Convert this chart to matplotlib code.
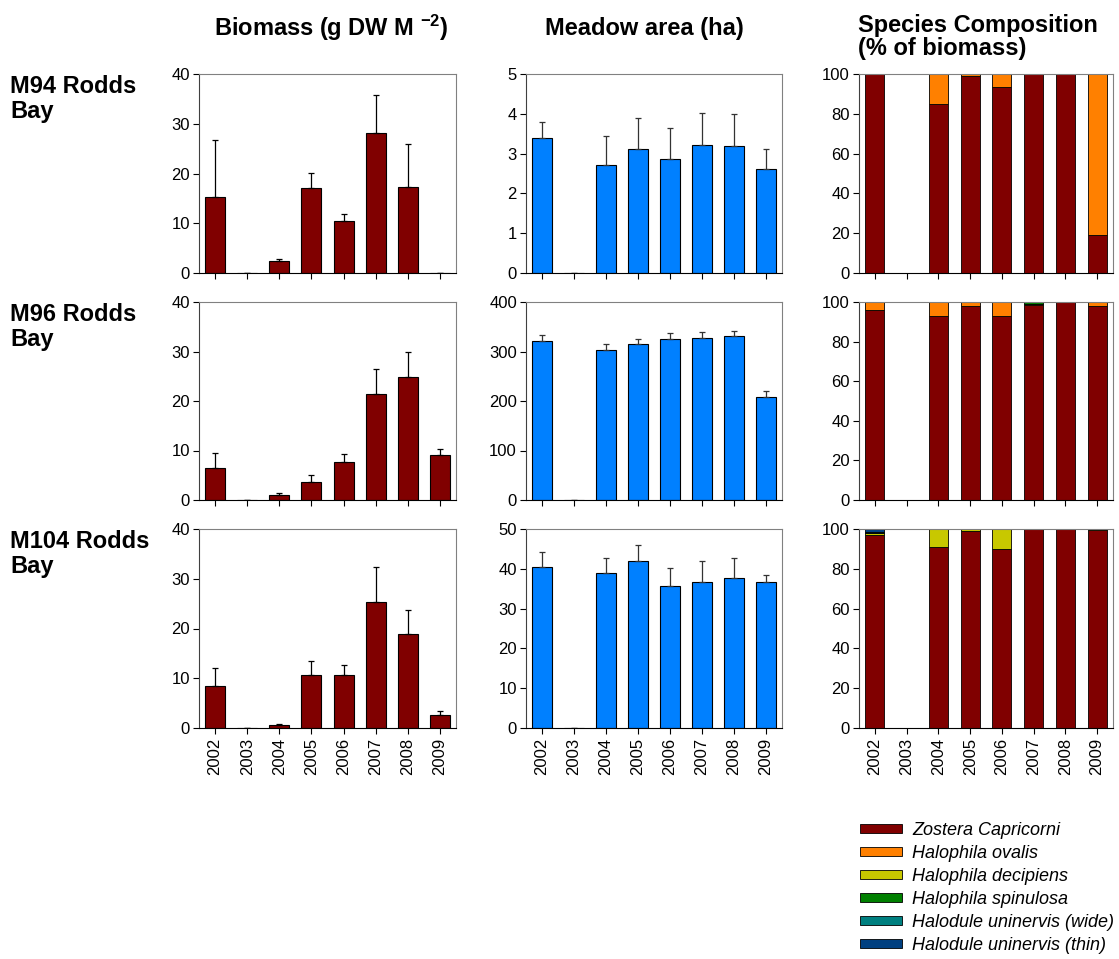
import numpy as np
import matplotlib
matplotlib.use('Agg')
import matplotlib.pyplot as plt
from matplotlib.patches import Patch

plt.rcParams['font.family'] = ['Liberation Sans', 'DejaVu Sans']
plt.rcParams['mathtext.fontset'] = 'custom'
plt.rcParams['mathtext.rm'] = 'Liberation Sans'
plt.rcParams['mathtext.bf'] = 'Liberation Sans:bold'

years = ['2002', '2003', '2004', '2005', '2006', '2007', '2008', '2009']
sites = ['M94 Rodds\nBay', 'M96 Rodds\nBay', 'M104 Rodds\nBay']

# biomass (g DW m-2) and upper error
biomass = [
    [15.2, 0, 2.35, 17.1, 10.5, 28.1, 17.3, 0.1],
    [6.4, 0, 0.94, 3.56, 7.7, 21.5, 24.9, 9.0],
    [8.46, 0, 0.54, 10.7, 10.7, 25.3, 18.9, 2.7],
]
biomass_err = [
    [11.6, 0, 0.4, 3.0, 1.4, 7.7, 8.7, 0],
    [3.1, 0, 0.46, 1.44, 1.6, 5.0, 4.9, 1.4],
    [3.64, 0, 0.2, 2.7, 1.9, 7.0, 4.9, 0.8],
]

# meadow area (ha) and upper error
area = [
    [3.40, 0, 2.71, 3.11, 2.86, 3.21, 3.20, 2.62],
    [322, 0, 304, 316, 325, 328, 331, 209],
    [40.4, 0, 39.0, 41.9, 35.6, 36.7, 37.8, 36.6],
]
area_err = [
    [0.40, 0, 0.74, 0.79, 0.79, 0.80, 0.80, 0.49],
    [12, 0, 11, 10, 12, 11, 11, 11],
    [3.9, 0, 3.8, 4.0, 4.5, 5.3, 5.0, 1.8],
]
area_ylim = [(0, 5), (0, 400), (0, 50)]
area_ticks = [np.arange(0, 6, 1), np.arange(0, 401, 100), np.arange(0, 51, 10)]

species = ['Zostera Capricorni', 'Halophila ovalis', 'Halophila decipiens',
           'Halophila spinulosa', 'Halodule uninervis (wide)', 'Halodule uninervis (thin)']
species_colors = ['#800000', '#ff8000', '#c8c800', '#008000', '#008080', '#004080']

# species composition (% of biomass), per site: one list per species
composition = [
    [[100, 0, 85, 99, 93.5, 100, 100, 19],
     [0, 0, 15, 1, 6.5, 0, 0, 81],
     [0, 0, 0, 0, 0, 0, 0, 0],
     [0, 0, 0, 0, 0, 0, 0, 0],
     [0, 0, 0, 0, 0, 0, 0, 0],
     [0, 0, 0, 0, 0, 0, 0, 0]],
    [[96, 0, 93, 98, 93, 98.7, 100, 98],
     [4, 0, 7, 2, 7, 0.5, 0, 2],
     [0, 0, 0, 0, 0, 0, 0, 0],
     [0, 0, 0, 0, 0, 0.8, 0, 0],
     [0, 0, 0, 0, 0, 0, 0, 0],
     [0, 0, 0, 0, 0, 0, 0, 0]],
    [[97, 0, 91, 99, 90, 100, 100, 99.7],
     [0, 0, 0, 0, 0, 0, 0, 0],
     [0.8, 0, 9, 1, 10, 0, 0, 0.3],
     [0.2, 0, 0, 0, 0, 0, 0, 0],
     [0.5, 0, 0, 0, 0, 0, 0, 0],
     [1.5, 0, 0, 0, 0, 0, 0, 0]],
]

W, H = 1119, 959
fig = plt.figure(figsize=(W / 100, H / 100), dpi=100)

col_x = [(199, 456), (526, 782), (859, 1113)]
row_y = [(74, 273), (302, 500), (529, 728)]

x = np.arange(len(years))


def style_axes(ax, show_labels):
    ax.set_xlim(-0.5, 7.5)
    for s in ['top', 'right']:
        ax.spines[s].set_color('#808080')
    ax.spines['left'].set_color('#404040')
    ax.spines['bottom'].set_color('black')
    ax.tick_params(axis='y', labelsize=12, length=4, width=0.8, pad=2.5)
    ax.tick_params(axis='x', labelsize=12, length=4, width=0.8, pad=3)
    ax.set_xticks(x)
    if show_labels:
        ax.set_xticklabels(years, rotation=90)
    else:
        ax.set_xticklabels([])


for r in range(3):
    y0, y1 = row_y[r]
    axes = []
    for c in range(3):
        x0, x1 = col_x[c]
        ax = fig.add_axes([x0 / W, 1 - y1 / H, (x1 - x0) / W, (y1 - y0) / H])
        axes.append(ax)
    ax1, ax2, ax3 = axes

    ax1.bar(x, biomass[r], width=0.62, color='#800000', edgecolor='black', linewidth=0.8,
            yerr=[np.zeros(8), biomass_err[r]], capsize=2.5,
            error_kw=dict(ecolor='black', elinewidth=0.9, capthick=0.9))
    ax1.set_ylim(0, 40)
    ax1.set_yticks(np.arange(0, 41, 10))

    ax2.bar(x, area[r], width=0.62, color='#0080ff', edgecolor='black', linewidth=0.8,
            yerr=[np.zeros(8), area_err[r]], capsize=2.5,
            error_kw=dict(ecolor='#333333', elinewidth=0.9, capthick=0.9))
    ax2.set_ylim(*area_ylim[r])
    ax2.set_yticks(area_ticks[r])

    bottom = np.zeros(8)
    for vals, col in zip(composition[r], species_colors):
        vals = np.array(vals, dtype=float)
        ax3.bar(x, vals, bottom=bottom, width=0.6, color=col,
                edgecolor='black' if vals.any() else 'none', linewidth=0.6)
        bottom = bottom + vals
    ax3.set_ylim(0, 100)
    ax3.set_yticks(np.arange(0, 101, 20))
    ax3.spines['left'].set_color('#808080')

    for ax in axes:
        style_axes(ax, r == 2)

    fig.text(10 / W, 1 - (y0 + 1) / H, sites[r], ha='left', va='top',
             fontsize=17, fontweight='bold', linespacing=1.1)

# column titles
fig.text(331 / W, 1 - 28 / H, r'Biomass (g DW M $\mathbf{^{-2}}$)', ha='center', va='center',
         fontsize=17, fontweight='bold')
fig.text(644 / W, 1 - 28 / H, 'Meadow area (ha)', ha='center', va='center',
         fontsize=17, fontweight='bold')
fig.text(858 / W, 1 - 37 / H, 'Species Composition\n(% of biomass)', ha='left', va='center',
         fontsize=17, fontweight='bold', linespacing=1.0)

handles = [Patch(facecolor=c, edgecolor='black', linewidth=0.6) for c in species_colors]
fig.legend(handles, species, loc='upper left', bbox_to_anchor=(860 / W, 1 - 822 / H),
           frameon=False, prop={'style': 'italic', 'size': 13},
           handlelength=2.3, handleheight=0.45, labelspacing=0.33, handletextpad=0.6,
           borderaxespad=0, borderpad=0)

fig.savefig('out.png', dpi=100)
